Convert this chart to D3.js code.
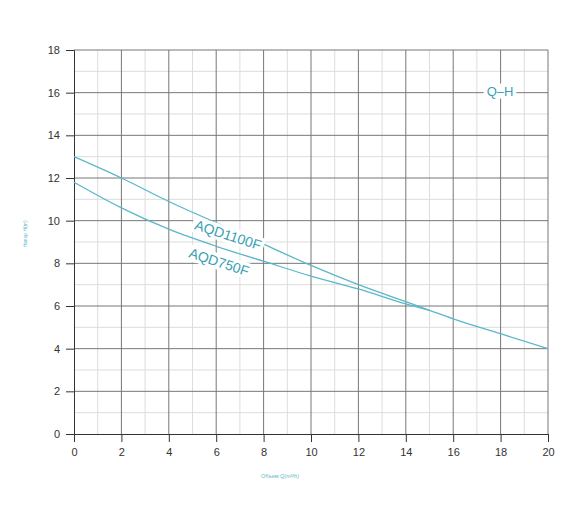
<!DOCTYPE html>
<html><head><meta charset="utf-8">
<script src="https://cdn.jsdelivr.net/npm/d3@7"></script>
<style>body{margin:0;background:#fff}</style>
</head><body>
<svg id="chart" width="580" height="508"></svg>
<script>
var flowQ    = [0, 2, 4, 6, 8, 10, 12, 14, 15, 16, 18, 20];
var head1100 = [13, 12, 10.9, 9.9, 8.9, 7.9, 7.0, 6.2, 5.8, 5.4, 4.7, 4.0];
var flow750  = [0, 2, 4, 6, 8, 10, 12, 14, 15];
var head750  = [11.8, 10.6, 9.6, 8.8, 8.1, 7.4, 6.8, 6.1, 5.8];
var xTicks   = d3.range(0, 21, 2);
var yTicks   = d3.range(0, 19, 2);

var svg = d3.select("#chart");
var padL = 74, padR = 548, padT = 50, padB = 434;
var x = d3.scaleLinear().domain([0, 20]).range([padL, padR]);
var y = d3.scaleLinear().domain([0, 18]).range([padB, padT]);
var teal = "#5ab8c9";

// minor grid
svg.append("g").selectAll("line").data(d3.range(1, 21, 2)).enter().append("line")
  .attr("x1", x).attr("x2", x).attr("y1", padT).attr("y2", padB)
  .attr("stroke", "#ddd");
svg.append("g").selectAll("line").data(d3.range(1, 19, 2)).enter().append("line")
  .attr("y1", y).attr("y2", y).attr("x1", padL).attr("x2", padR)
  .attr("stroke", "#ddd");
// major grid
svg.append("g").selectAll("line").data(xTicks.slice(1)).enter().append("line")
  .attr("x1", x).attr("x2", x).attr("y1", padT).attr("y2", padB)
  .attr("stroke", "#777");
svg.append("g").selectAll("line").data(yTicks.slice(1)).enter().append("line")
  .attr("y1", y).attr("y2", y).attr("x1", padL).attr("x2", padR)
  .attr("stroke", "#777");

var xAxis = svg.append("g").attr("transform", "translate(0," + padB + ")")
  .call(d3.axisBottom(x).tickValues(xTicks).tickSize(8).tickPadding(6));
var yAxis = svg.append("g").attr("transform", "translate(" + padL + ",0)")
  .call(d3.axisLeft(y).tickValues(yTicks).tickSize(8).tickPadding(6));
[xAxis, yAxis].forEach(function (a) {
  a.select(".domain").attr("stroke", "#333");
  a.selectAll("line").attr("stroke", "#333");
  a.selectAll("text").attr("font-family", "Liberation Sans, Arial").attr("font-size", 11).attr("fill", "#333");
});

var line = d3.line().curve(d3.curveMonotoneX);
svg.append("path")
  .attr("d", line(flowQ.map(function (q, i) { return [x(q), y(head1100[i])]; })))
  .attr("fill", "none").attr("stroke", teal).attr("stroke-width", 1.3);
svg.append("path")
  .attr("d", line(flow750.map(function (q, i) { return [x(q), y(head750[i])]; })))
  .attr("fill", "none").attr("stroke", teal).attr("stroke-width", 1.3);

function label(t, cx, cy, rot, size) {
  var g = svg.append("g").attr("transform", "translate(" + cx + "," + cy + ") rotate(" + rot + ")");
  var tx = g.append("text").text(t).attr("text-anchor", "middle").attr("dy", "0.35em")
    .attr("font-family", "Liberation Sans, Arial").attr("font-size", size).attr("fill", "#3a9fb5");
  var b = tx.node().getBBox();
  g.insert("rect", "text").attr("x", b.x - 3).attr("y", b.y).attr("width", b.width + 6)
    .attr("height", b.height).attr("fill", "#fff");
}
label("AQD1100F", 228, 235, 18, 14);
label("AQD750F", 219, 262, 18, 14);
label("Q–H", 500, 91, 0, 13);

svg.append("text").text("Напор H(m)")
  .attr("transform", "translate(27,234) rotate(-90)").attr("text-anchor", "middle")
  .attr("font-family", "Liberation Sans, Arial").attr("font-size", 5).attr("fill", teal);
svg.append("text").text("Объем Q(m³/h)")
  .attr("x", 280).attr("y", 478).attr("text-anchor", "middle")
  .attr("font-family", "Liberation Sans, Arial").attr("font-size", 5.5).attr("fill", teal);
</script>
</body></html>
